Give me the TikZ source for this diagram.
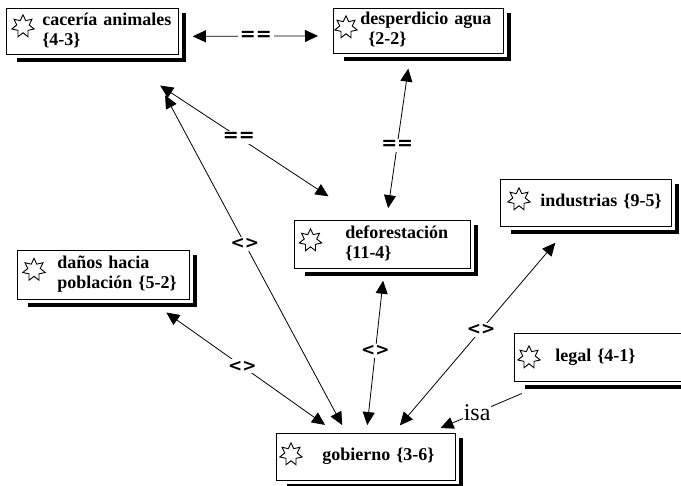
\documentclass[tikz,border=0pt]{standalone}
\usepackage{fontspec}
\usepackage{tikz}
\usetikzlibrary{arrows.meta,shapes.geometric}

\newfontfamily\boxfont{Liberation Serif}
\newfontfamily\relfont{DejaVu Sans}

\newcommand{\entitytext}[2]{\hspace*{#1}\begin{tabular}[c]{@{}l@{}}#2\end{tabular}}

\tikzset{
  entity/.style={draw, line width=0.8pt, fill=white, anchor=north west,
    inner xsep=0pt, inner ysep=2pt, align=left,
    font=\boxfont\bfseries\fontsize{18}{20}\selectfont},
  starmark/.style={star, star points=7, star point ratio=1.8, draw,
    line width=0.9pt, minimum size=23pt, inner sep=0pt},
  shadowbar/.style={line width=3.5pt},
  rel/.style={line width=0.8pt,
    {Triangle[length=13pt,width=12pt]}-{Triangle[length=13pt,width=12pt]}},
  isarel/.style={line width=0.8pt, -{Triangle[length=13pt,width=12pt]}},
  eqlbl/.style={fill=white, inner sep=2pt, font=\relfont\bfseries\fontsize{19}{19}\selectfont},
  cmplbl/.style={fill=white, inner sep=2pt, font=\relfont\bfseries\fontsize{17}{17}\selectfont},
  isalbl/.style={fill=white, inner sep=1pt, font=\boxfont\fontsize{24}{24}\selectfont},
}

\begin{document}
\begin{tikzpicture}[x=1pt,y=-1pt]
	\useasboundingbox (0,0) rectangle (681,486);
	\clip (0,0) rectangle (681,486);

	% entities
	\node[entity, text width=172pt, minimum height=46pt] (cac) at (6,8)
		{\entitytext{36pt}{cacería animales\\\{4-3\}}};
	\node[entity, text width=170pt, minimum height=45pt] (desp) at (333,8)
		{\entitytext{27pt}{desperdicio agua\\\hspace*{8pt}\{2-2\}}};
	\node[entity, text width=176pt, minimum height=48pt] (defo) at (294,220)
		{\entitytext{51pt}{deforestación\\\{11-4\}}};
	\node[entity, text width=171pt, minimum height=47pt] (ind) at (500,179)
		{\entitytext{40pt}{industrias \{9-5\}}};
	\node[entity, text width=172pt, minimum height=49pt] (danos) at (17,250)
		{\entitytext{40pt}{daños hacia\\población \{5-2\}}};
	\node[entity, text width=179pt, minimum height=47pt] (gob) at (276,433)
		{\entitytext{46pt}{gobierno \{3-6\}}};
	\node[entity, text width=186pt, minimum height=48pt] (legal) at (514,333)
		{\entitytext{41pt}{legal \{4-1\}}};

	% stars
	\node[starmark] (cacS) at ([xshift=17pt,yshift=5pt]cac.west) {};
	\node[starmark] (despS) at ([xshift=13pt,yshift=3.5pt]desp.west) {};
	\node[starmark] (defoS) at ([xshift=16.5pt,yshift=4pt]defo.west) {};
	\node[starmark] (indS) at ([xshift=19pt,yshift=3.5pt]ind.west) {};
	\node[starmark] (danosS) at ([xshift=17pt,yshift=5pt]danos.west) {};
	\node[starmark] (gobS) at ([xshift=15pt,yshift=2.5pt]gob.west) {};
	\node[starmark] (legalS) at ([xshift=15pt,yshift=0pt]legal.west) {};

	% shadows
	\foreach \n in {cac,desp,defo,ind,danos,gob,legal}
		\draw[shadowbar] ([xshift=11pt,yshift=-5pt]\n.south west) -| ([xshift=5pt,yshift=-5pt]\n.north east);

	% relations
	\draw[rel, shorten <=14pt, shorten >=15pt] ([yshift=-5pt]cac.east) -- node[eqlbl] {==} ([yshift=-5pt]desp.west);
	\draw[rel, shorten <=56pt, shorten >=43pt] ([xshift=21pt]cac.south) -- node[eqlbl] {==} ([xshift=-18pt]defo.north);
	\draw[rel, shorten <=15pt, shorten >=12pt] ([xshift=-8pt]desp.south) -- node[eqlbl, pos=.55] {==} ([xshift=4pt]defo.north);
	\draw[rel, shorten <=46pt, shorten >=9pt] ([xshift=51pt]cac.south) -- node[cmplbl] {<>} ([xshift=-19.5pt]gob.north);
	\draw[rel, shorten <=22pt, shorten >=14pt] ([xshift=45pt]danos.south) -- node[cmplbl] {<>} ([xshift=-29.5pt]gob.north);
	\draw[rel, shorten <=12pt, shorten >=8pt] ([xshift=2pt]defo.south) -- node[cmplbl] {<>} ([xshift=0.5pt]gob.north);
	\draw[rel, shorten <=21pt, shorten >=10pt] ([xshift=-17pt]ind.south) -- node[cmplbl] {<>} ([xshift=27.5pt]gob.north);
	\draw[isarel, shorten <=30pt, shorten >=12.6pt] ([xshift=-58pt]legal.south) -- node[isalbl, pos=.6] {isa} ([xshift=63pt]gob.north);
\end{tikzpicture}
\end{document}
